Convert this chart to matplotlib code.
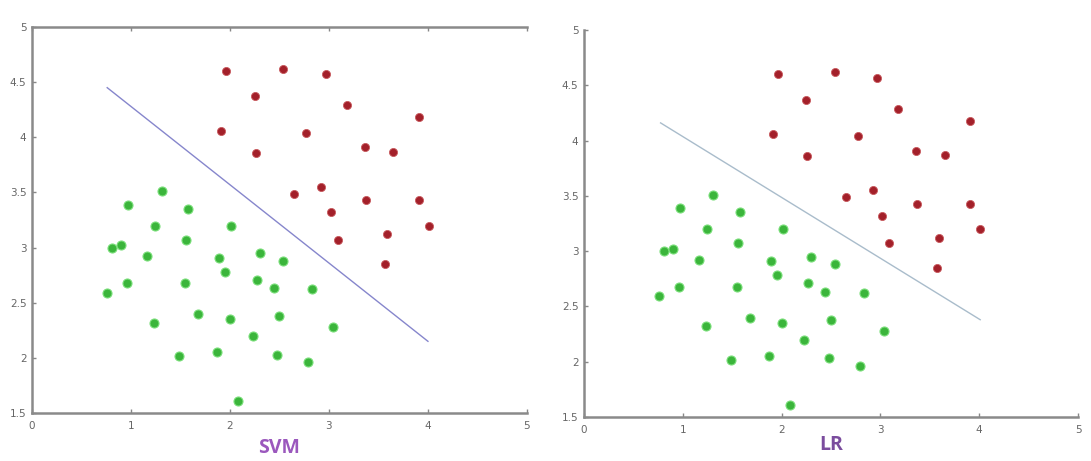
import matplotlib.pyplot as plt

# class 1 (red) points
red_x = [1.96, 2.54, 2.97, 2.25, 3.18, 3.91, 1.91, 2.77, 3.36, 3.65,
         2.26, 2.65, 2.92, 3.02, 3.37, 3.91, 3.09, 4.01, 3.59, 3.57]
red_y = [4.60, 4.62, 4.57, 4.37, 4.29, 4.18, 4.06, 4.04, 3.91, 3.87,
         3.86, 3.49, 3.55, 3.32, 3.43, 3.43, 3.07, 3.20, 3.12, 2.85]

# class 0 (green) points
green_x = [1.31, 0.97, 1.58, 1.24, 2.01, 0.81, 0.90, 1.56, 1.16, 1.89,
           2.30, 2.54, 1.95, 0.96, 1.55, 2.27, 2.44, 0.76, 2.83, 1.68,
           2.00, 2.50, 1.23, 2.23, 3.04, 1.49, 1.87, 2.48, 2.79, 2.08]
green_y = [3.51, 3.39, 3.35, 3.20, 3.20, 3.00, 3.02, 3.07, 2.92, 2.91,
           2.95, 2.88, 2.78, 2.68, 2.68, 2.71, 2.63, 2.59, 2.62, 2.40,
           2.35, 2.38, 2.32, 2.20, 2.28, 2.02, 2.05, 2.03, 1.96, 1.61]

# decision boundaries (end points)
svm_x = [0.76, 4.00]
svm_y = [4.45, 2.15]
lr_x = [0.775, 4.01]
lr_y = [4.16, 2.38]

xticks = [0, 1, 2, 3, 4, 5]
yticks = [1.5, 2, 2.5, 3, 3.5, 4, 4.5, 5]
ytick_labels = ['1.5', '2', '2.5', '3', '3.5', '4', '4.5', '5']

fig = plt.figure(figsize=(10.91, 4.61), dpi=100)
ax1 = fig.add_axes([0.0293, 0.1041, 0.4537, 0.8373])
ax2 = fig.add_axes([0.5353, 0.0954, 0.4528, 0.8395])

panels = [
    (ax1, svm_x, svm_y, '#8686cc', 'SVM', '#9b58bd', True, 5),
    (ax2, lr_x, lr_y, '#a9bccb', 'LR', '#7b4d9e', False, 0),
]

for ax, lx, ly, lcol, name, tcol, top, lpad in panels:
    ax.plot(lx, ly, color=lcol, linewidth=1.0, zorder=1)
    ax.scatter(red_x, red_y, s=34, color='#a3202a', edgecolors='#c85a5e',
               linewidths=0.6, zorder=2)
    ax.scatter(green_x, green_y, s=42, color='#3bb53b', edgecolors='#7adf7a',
               linewidths=0.8, zorder=2)
    ax.set_xlim(0, 5)
    ax.set_ylim(1.5, 5)
    ax.set_xticks(xticks)
    ax.set_yticks(yticks)
    ax.set_yticklabels(ytick_labels)
    ax.tick_params(direction='in', length=3, width=1, colors='#888888',
                   labelcolor='#666666', labelsize=7.5, top=top)
    ax.tick_params(axis='x', pad=6)
    ax.tick_params(axis='y', pad=4)
    for s in ['left', 'bottom', 'top']:
        ax.spines[s].set_color('#8a8a8a')
        ax.spines[s].set_linewidth(1.8)
    ax.spines['right'].set_visible(False)
    ax.spines['top'].set_visible(top)
    ax.set_xlabel(name, color=tcol, fontsize=14, fontweight='bold',
                  family='Open Sans', labelpad=lpad)

fig.savefig('out.png', dpi=100)
